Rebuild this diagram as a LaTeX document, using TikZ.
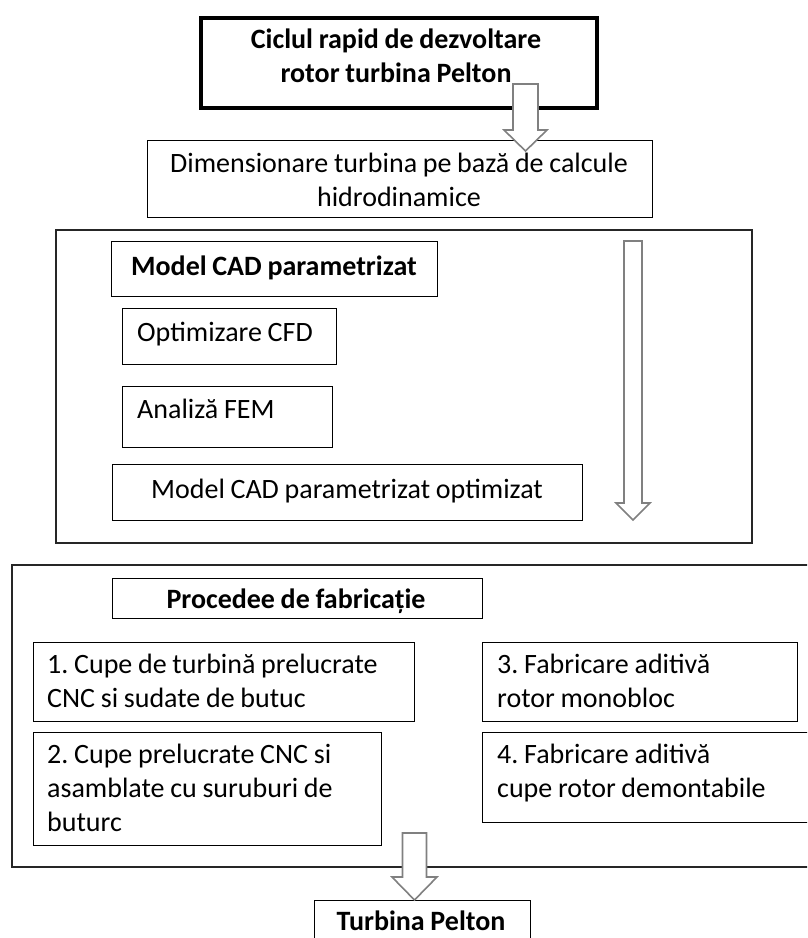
\documentclass[tikz,border=0pt]{standalone}
\usepackage{fontspec}
\setmainfont{Carlito}[WordSpace=0.9]
\frenchspacing
\newcommand\blockarr[6]{\draw[blockarrow] ({#1-#5},#2) -- ({#1+#5},#2) -- ({#1+#5},#3) -- ({#1+#6},#3) -- (#1,#4) -- ({#1-#6},#3) -- ({#1-#5},#3) -- cycle;}
\begin{document}
\begin{tikzpicture}[x=1pt,y=-1pt,
  frame/.style={draw=black, line width=1.2pt, rectangle, inner sep=0pt, anchor=north west},
  outerframe/.style={frame, draw=black!85, line width=1.5pt},
  txt/.style={font=\fontsize{28}{34}\selectfont\frenchspacing, inner sep=0pt},
  btxt/.style={font=\fontsize{28}{34}\selectfont\bfseries\frenchspacing, inner sep=0pt},
  blockarrow/.style={draw=black!50, fill=white, line width=1.6pt, line join=miter}
]
\useasboundingbox (0,0) rectangle (807,938);
\clip (0,0) rectangle (807,938);
\fill[white] (0,0) rectangle (807,938);

% boxes
\node[frame, line width=3.5pt, minimum width=396pt, minimum height=90pt] (title) at (199,16) {};
\node[frame, minimum width=505pt, minimum height=77pt] (dim) at (147,140) {};
\node[outerframe, minimum width=696pt, minimum height=313pt] (cadgroup) at (55,229) {};
\node[frame, minimum width=326pt, minimum height=55pt] (cad) at (111,241) {};
\node[frame, minimum width=214pt, minimum height=56pt] (cfd) at (122,308) {};
\node[frame, minimum width=210pt, minimum height=61pt] (fem) at (122,386) {};
\node[frame, minimum width=470pt, minimum height=56pt] (opt) at (112,464) {};
\node[outerframe, minimum width=820pt, minimum height=302pt] (fabgroup) at (11,564) {};
\node[frame, minimum width=370pt, minimum height=40pt] (proc) at (112,578) {};
\node[frame, minimum width=381pt, minimum height=79pt] (p1) at (33,642) {};
\node[frame, minimum width=315pt, minimum height=79pt] (p3) at (482,642) {};
\node[frame, minimum width=348pt, minimum height=113pt] (p2) at (33,732) {};
\node[frame, minimum width=340pt, minimum height=90pt] (p4) at (482,732) {};
\node[frame, minimum width=216pt, minimum height=60pt] (turb) at (314,900) {};

% block arrows
\blockarr{525.5}{84}{130}{151}{12.5}{21.5}
\blockarr{633}{241}{503}{520}{9}{17}
\blockarr{414.5}{833}{877}{900}{12}{22.5}

% texts
\node[btxt, anchor=base, text width=390pt, align=flush center] (title-t) at (396,48) {Ciclul rapid de dezvoltare\\rotor turbina Pelton};
\node[txt, anchor=base, text width=500pt, align=flush center] (dim-t) at (399,172) {Dimensionare turbina pe bază de calcule\\hidrodinamice};
\node[btxt, anchor=base] (cad-t) at (274,275) {Model CAD parametrizat};
\node[txt, anchor=base west] (cfd-t) at (137,341) {Optimizare CFD};
\node[txt, anchor=base west] (fem-t) at (137,418) {Analiză FEM};
\node[txt, anchor=base] (opt-t) at (347,498) {Model CAD parametrizat optimizat};
\node[btxt, anchor=base] (proc-t) at (296,608) {Procedee de fabricație};
\node[txt, anchor=base west, text width=370pt, align=flush left] (p1-t) at (47,673) {1. Cupe de turbină prelucrate\\CNC si sudate de butuc};
\node[txt, anchor=base west, text width=300pt, align=flush left] (p3-t) at (497,673) {3. Fabricare aditivă\\rotor monobloc};
\node[txt, anchor=base west, text width=340pt, align=flush left] (p2-t) at (47,763) {2. Cupe prelucrate CNC si\\asamblate cu suruburi de\\buturc};
\node[txt, anchor=base west, text width=310pt, align=flush left] (p4-t) at (497,763) {4. Fabricare aditivă\\cupe rotor demontabile};
\node[btxt, anchor=base] (turb-t) at (421,930) {Turbina Pelton};
\end{tikzpicture}
\end{document}
